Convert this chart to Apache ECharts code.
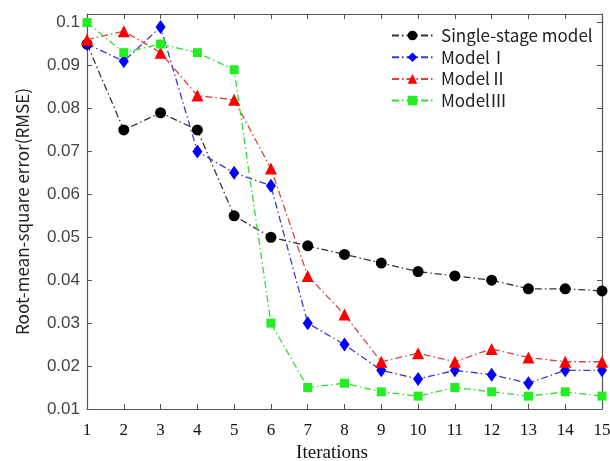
<!DOCTYPE html>
<html><head><meta charset="utf-8">
<script src="https://cdn.jsdelivr.net/npm/echarts@6/dist/echarts.min.js"></script>
<style>html,body{margin:0;padding:0;background:#fff}#c{width:610px;height:461px}</style>
</head><body><div id="c"></div>
<script>
const iterations = [1,2,3,4,5,6,7,8,9,10,11,12,13,14,15];
const singleStage = [0.095,0.075,0.079,0.075,0.055,0.050,0.048,0.046,0.044,0.042,0.041,0.040,0.038,0.038,0.0375];
const model1 = [0.095,0.091,0.099,0.070,0.065,0.062,0.030,0.025,0.019,0.017,0.019,0.018,0.016,0.019,0.019];
const model2 = [0.096,0.098,0.093,0.083,0.082,0.066,0.041,0.032,0.021,0.023,0.021,0.024,0.022,0.021,0.021];
const model3 = [0.100,0.093,0.095,0.093,0.089,0.030,0.015,0.016,0.014,0.013,0.015,0.014,0.013,0.014,0.013];
const seriesNames = ['Single-stage model','ModelⅠ','ModelⅡ','ModelⅢ'];
const yTicks = [0.01,0.02,0.03,0.04,0.05,0.06,0.07,0.08,0.09,0.1];

function pairs(vals){ return iterations.map((x,i)=>[x, vals[i]]); }
const dashDot = [7,3,1.5,3];
const chart = echarts.init(document.getElementById('c'));
const axisColor = '#555';
const mkSeries = (name, vals, color, lineColor, symbol, size) => ({
  name, type:'line', data: pairs(vals), symbol, symbolSize: size,
  itemStyle:{color}, lineStyle:{color: lineColor, width:1.3, type: dashDot},
  z: 3
});
chart.setOption({
  animation:false,
  grid:{left:87, right:8, top:14, bottom:52, outerBoundsMode:'none', containLabel:false},
  legend:{
    left:391, top:27, orient:'vertical', itemWidth:41, itemHeight:12, itemGap:4.7, padding:0,
    textStyle:{fontFamily:'Noto Sans CJK SC', fontSize:17, lineHeight:17, color:'#222', padding:[0,0,0,3]},
    data: seriesNames
  },
  xAxis:[{
    type:'value', min:1, max:15, interval:1,
    name:'Iterations', nameLocation:'middle', nameGap:25,
    nameTextStyle:{fontFamily:'Liberation Serif', fontSize:19, color:'#111', padding:[0,25,0,0]},
    axisLine:{lineStyle:{color:axisColor, width:1.2}},
    axisTick:{inside:true, length:5, lineStyle:{color:axisColor}},
    axisLabel:{fontFamily:'Liberation Serif', fontSize:17, color:'#111', margin:13},
    splitLine:{show:false}
  },{
    type:'value', min:1, max:15, interval:1, position:'top',
    axisLine:{show:true, lineStyle:{color:axisColor, width:1.2}},
    axisTick:{inside:true, length:5, lineStyle:{color:axisColor}},
    axisLabel:{show:false}, splitLine:{show:false}
  }],
  yAxis:[{
    type:'value', min:0.01, max:0.102, interval:0.01,
    name:'Root-mean-square error(RMSE)', nameLocation:'middle', nameGap:56, nameRotate:90,
    nameTextStyle:{fontFamily:'Noto Sans CJK SC', fontSize:17, color:'#222'},
    axisLine:{show:true, lineStyle:{color:axisColor, width:1.2}},
    axisTick:{inside:true, length:5, lineStyle:{color:axisColor}},
    axisLabel:{fontFamily:'Liberation Sans', fontSize:17, color:'#444', margin:7, showMaxLabel:false,
      formatter: v => { const t = yTicks.find(k => Math.abs(k - v) < 1e-9); return t === undefined ? '' : String(t); }},
    splitLine:{show:false}
  },{
    type:'value', min:0.01, max:0.102, interval:0.01, position:'right',
    axisLine:{show:true, lineStyle:{color:axisColor, width:1.2}},
    axisTick:{inside:true, length:5, lineStyle:{color:axisColor}},
    axisLabel:{show:false}, splitLine:{show:false}
  }],
  series:[
    mkSeries(seriesNames[0], singleStage, '#000000', '#333333', 'circle', 11),
    mkSeries(seriesNames[1], model1, '#0000ff', '#3a3ad0', 'diamond', [10,14]),
    mkSeries(seriesNames[2], model2, '#ff0000', '#e04040', 'triangle', 12),
    mkSeries(seriesNames[3], model3, '#22ee22', '#33dd33', 'rect', 9)
  ]
});
</script></body></html>
